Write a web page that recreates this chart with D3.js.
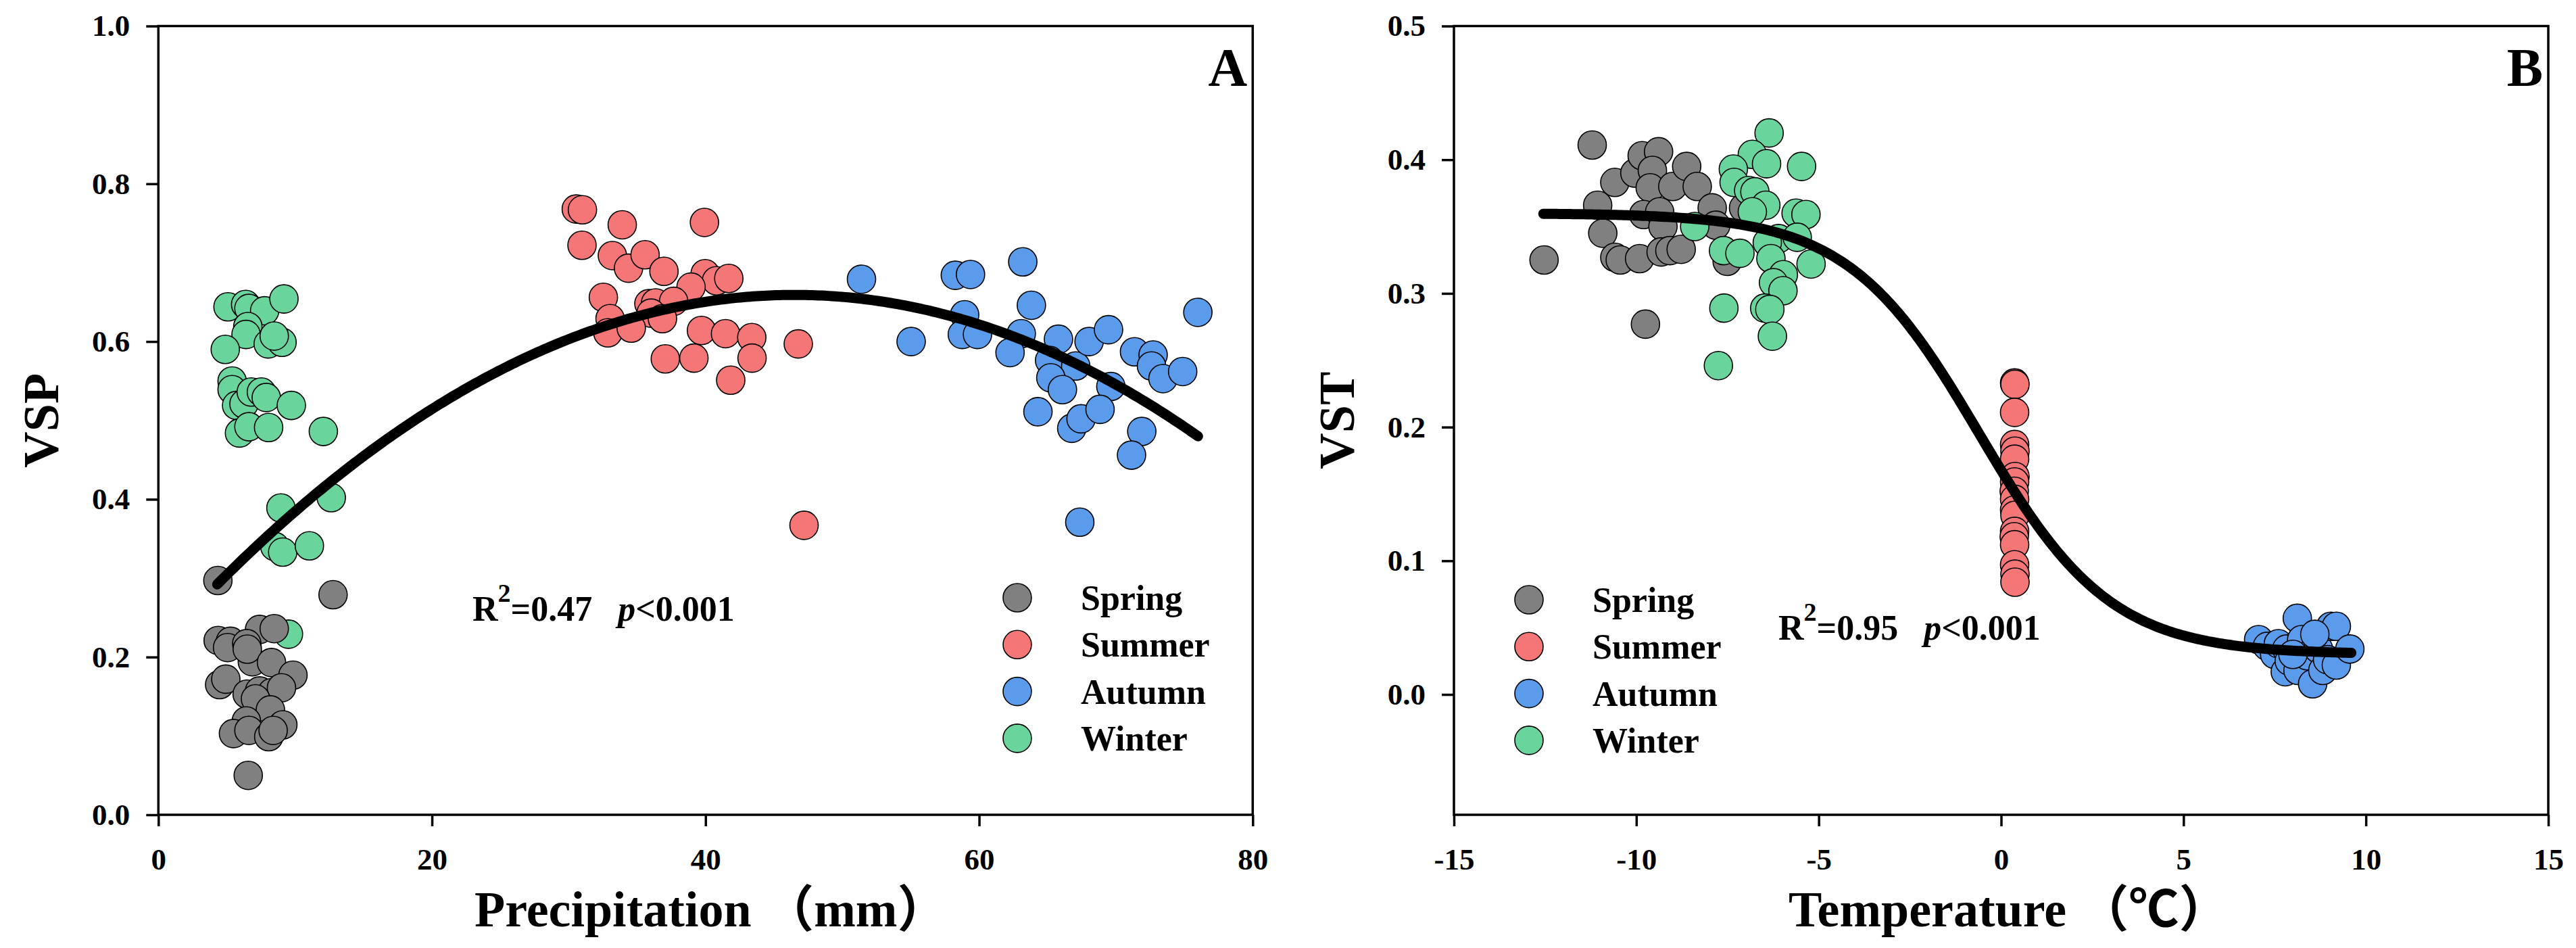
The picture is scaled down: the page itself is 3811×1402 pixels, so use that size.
<!DOCTYPE html>
<html><head><meta charset="utf-8">
<script src="https://cdn.jsdelivr.net/npm/d3@7"></script>
<style>html,body{margin:0;padding:0;background:#fff;} svg{display:block}</style>
</head><body>
<svg id="c" width="3811" height="1402"></svg>
<script>
// ---------------- DATA ----------------
const seasons = ["Spring", "Summer", "Autumn", "Winter"];
const seasonColors = ["#808080", "#F57676", "#5B9BEC", "#69D59C"];

// Panel A: Precipitation (mm) vs VSP
const springA = [[4.35,0.297],[12.77,0.279],[4.37,0.221],[5.27,0.220],[5.06,0.212],[7.40,0.235],[8.47,0.236],[6.46,0.217],[6.87,0.194],[6.5,0.21],[8.27,0.193],[9.84,0.177],[4.48,0.165],[4.93,0.172],[6.49,0.153],[7.40,0.157],[8.30,0.155],[9.0,0.161],[7.1,0.147],[8.19,0.133],[6.43,0.119],[5.49,0.103],[6.62,0.107],[8.07,0.099],[9.1,0.114],[8.39,0.107],[6.57,0.050]];
const summerA = [[30.55,0.768],[31.0,0.767],[33.91,0.748],[39.92,0.751],[30.97,0.722],[33.19,0.709],[34.37,0.693],[35.58,0.710],[36.96,0.689],[39.97,0.686],[40.8,0.677],[41.7,0.680],[38.94,0.669],[32.53,0.656],[35.86,0.648],[36.35,0.649],[37.67,0.651],[33.02,0.629],[36.02,0.636],[32.86,0.611],[34.57,0.617],[36.85,0.629],[39.7,0.614],[41.46,0.610],[43.38,0.605],[46.78,0.597],[37.06,0.578],[39.15,0.579],[43.4,0.579],[41.84,0.551],[47.2,0.367]];
const autumnA = [[51.40,0.679],[58.26,0.684],[59.37,0.685],[63.19,0.701],[63.82,0.646],[55.03,0.600],[58.94,0.634],[58.77,0.609],[59.88,0.609],[63.08,0.610],[62.26,0.586],[65.80,0.603],[65.15,0.576],[67.06,0.569],[65.24,0.554],[66.09,0.539],[68.04,0.600],[69.46,0.615],[71.36,0.587],[72.72,0.583],[72.60,0.569],[73.44,0.553],[74.88,0.562],[75.99,0.637],[69.63,0.543],[64.30,0.511],[66.77,0.490],[67.45,0.502],[68.84,0.514],[71.89,0.486],[71.14,0.456],[67.36,0.371]];
const winterA = [[5.09,0.644],[6.38,0.647],[6.62,0.642],[7.77,0.639],[9.18,0.654],[6.54,0.619],[6.41,0.609],[4.89,0.590],[8.03,0.597],[9.04,0.599],[8.47,0.607],[5.39,0.550],[5.39,0.539],[5.72,0.519],[6.26,0.521],[6.79,0.536],[7.53,0.536],[7.89,0.529],[9.72,0.519],[5.93,0.484],[6.62,0.492],[8.06,0.491],[12.06,0.486],[8.96,0.389],[12.64,0.402],[8.52,0.340],[9.09,0.333],[11.04,0.341],[9.51,0.229]];
// quadratic fit  VSP = a + b*P + c*P^2  and its x-range
const fitA = [0.2136, 0.01916, -0.000206];
const fitRangeA = [4.3, 76.0];
const xTicksA = [0, 20, 40, 60, 80];
const yTicksA = [0.0, 0.2, 0.4, 0.6, 0.8, 1.0];

// Panel B: Temperature (°C) vs VST
const springB = [[-12.53,0.325],[-11.21,0.411],[-11.06,0.366],[-10.92,0.345],[-10.59,0.383],[-10.04,0.390],[-9.84,0.403],[-9.39,0.406],[-9.56,0.392],[-9.62,0.379],[-9.00,0.380],[-8.62,0.395],[-8.33,0.380],[-7.92,0.364],[-9.80,0.359],[-9.36,0.361],[-9.27,0.350],[-7.82,0.351],[-10.59,0.327],[-10.44,0.325],[-9.91,0.326],[-9.32,0.331],[-9.08,0.332],[-8.77,0.333],[-7.51,0.324],[-9.75,0.277],[-7.06,0.364]];
const summerB = [[0.37,0.233],[0.38,0.232],[0.37,0.211],[0.37,0.187],[0.38,0.182],[0.37,0.176],[0.38,0.163],[0.37,0.159],[0.36,0.152],[0.37,0.146],[0.37,0.138],[0.38,0.134],[0.37,0.122],[0.36,0.118],[0.37,0.112],[0.37,0.097],[0.38,0.090],[0.38,0.084]];
const autumnB = [[7.06,0.041],[7.3,0.036],[7.5,0.030],[7.6,0.038],[7.79,0.017],[7.83,0.034],[7.9,0.025],[8.12,0.057],[8.14,0.018],[8.24,0.041],[8.39,0.029],[8.54,0.008],[8.70,0.034],[8.82,0.018],[8.95,0.026],[9.04,0.051],[9.19,0.051],[9.19,0.022],[9.56,0.034],[8.6,0.045],[8.0,0.030]];
const winterB = [[-6.36,0.420],[-6.82,0.404],[-6.43,0.397],[-5.47,0.395],[-7.34,0.393],[-7.32,0.383],[-6.92,0.377],[-6.75,0.376],[-6.45,0.366],[-6.82,0.361],[-5.62,0.360],[-5.35,0.359],[-8.40,0.350],[-6.10,0.341],[-5.59,0.342],[-6.41,0.338],[-7.61,0.332],[-7.16,0.330],[-6.31,0.326],[-5.21,0.322],[-5.97,0.314],[-6.24,0.308],[-5.98,0.302],[-7.60,0.289],[-6.48,0.289],[-6.34,0.288],[-6.27,0.268],[-7.75,0.246]];
// logistic fit  VST = bottom + (top-bottom)/(1+exp((T-x0)/s))
const fitB = [0.36, 0.03, -0.6, 1.8]; // top, bottom, x0, s
const fitRangeB = [-12.55, 9.6];
const xTicksB = [-15, -10, -5, 0, 5, 10, 15];
const yTicksB = [0.0, 0.1, 0.2, 0.3, 0.4, 0.5];

// ---------------- DRAW ----------------
const FONT = '"Times New Roman","Liberation Serif","Noto Sans CJK SC",serif';
const svg = d3.select('#c');
svg.append('rect').attr('width', 3811).attr('height', 1402).attr('fill', '#fff');

const TOP = 38.5, BOTTOM = 1205;

function panel(o) {
  const g = svg.append('g');
  const x = d3.scaleLinear().domain(o.xDomain).range([o.left, o.right]);
  const y = d3.scaleLinear().domain(o.yDomain).range([BOTTOM, TOP]);

  const ax = d3.axisBottom(x).tickValues(o.xTicks).tickSize(17).tickSizeOuter(0)
    .tickPadding(32).tickFormat(d => String(d));
  const ay = d3.axisLeft(y).tickValues(o.yTicks).tickSize(18).tickSizeOuter(0)
    .tickPadding(24).tickFormat(d3.format('.1f'));
  const gx = g.append('g').attr('transform', `translate(0,${BOTTOM})`).call(ax);
  const gy = g.append('g').attr('transform', `translate(${o.left},0)`).call(ay);
  [gx, gy].forEach(a => {
    a.select('.domain').remove();
    a.selectAll('line').attr('stroke', '#000').attr('stroke-width', 3.5);
    a.selectAll('text').attr('font-family', FONT).attr('font-size', 45)
      .attr('font-weight', 'bold').attr('fill', '#000');
  });

  // frame
  g.append('rect').attr('x', o.left).attr('y', TOP)
    .attr('width', o.right - o.left).attr('height', BOTTOM - TOP)
    .attr('fill', 'none').attr('stroke', '#000').attr('stroke-width', 3.5);

  // points
  o.order.forEach(i => {
    g.append('g').selectAll('circle').data(o.series[i]).join('circle')
      .attr('cx', d => x(d[0])).attr('cy', d => y(d[1])).attr('r', 21)
      .attr('fill', seasonColors[i]).attr('stroke', '#000').attr('stroke-width', 1.6);
  });

  // fitted curve
  const xs = d3.range(0, 301).map(k => o.fitRange[0] + (o.fitRange[1] - o.fitRange[0]) * k / 300);
  const line = d3.line().x(d => x(d)).y(d => y(o.fit(d)));
  g.append('path').datum(xs).attr('d', line).attr('fill', 'none')
    .attr('stroke', '#000').attr('stroke-width', 15)
    .attr('stroke-linecap', 'round').attr('stroke-linejoin', 'round');

  // legend
  const lg = g.append('g');
  seasons.forEach((s, i) => {
    const cy = o.legY + i * 69.3;
    lg.append('circle').attr('cx', o.legX).attr('cy', cy).attr('r', 21)
      .attr('fill', seasonColors[i]).attr('stroke', '#000').attr('stroke-width', 1.6);
    lg.append('text').attr('x', o.legX + 94).attr('y', cy + 18)
      .attr('font-family', FONT).attr('font-size', 52).attr('font-weight', 'bold').text(s);
  });

  // R2 text
  const t = g.append('text').attr('x', o.r2x).attr('y', o.r2y)
    .attr('font-family', FONT).attr('font-size', 52).attr('font-weight', 'bold');
  t.append('tspan').text('R');
  t.append('tspan').attr('dy', -28).attr('font-size', 38).text('2');
  t.append('tspan').attr('dy', 28).text('=' + o.r2);
  t.append('tspan').attr('dx', 38).attr('font-style', 'italic').text('p');
  t.append('tspan').text('<0.001');

  // panel letter
  g.append('text').attr('x', o.right - 8).attr('y', 127).attr('text-anchor', 'end')
    .attr('font-family', FONT).attr('font-size', 80).attr('font-weight', 'bold').text(o.letter);

  // axis titles
  g.append('text').attr('x', o.xTitleX).attr('y', 1370)
    .attr('font-family', FONT).attr('font-size', 74).attr('font-weight', 'bold').text(o.xTitle);
  g.append('text').attr('transform', `translate(${o.left - 148},${(TOP + BOTTOM) / 2}) rotate(-90)`)
    .attr('text-anchor', 'middle')
    .attr('font-family', FONT).attr('font-size', 74).attr('font-weight', 'bold').text(o.yTitle);
}

panel({
  left: 234.3, right: 1853.3, xDomain: [0, 80], yDomain: [0, 1],
  xTicks: xTicksA, yTicks: yTicksA,
  series: [springA, summerA, autumnA, winterA], order: [3, 1, 2, 0],
  fit: p => fitA[0] + fitA[1] * p + fitA[2] * p * p, fitRange: fitRangeA,
  legX: 1505, legY: 884, r2x: 699, r2y: 918, r2: '0.47', letter: 'A',
  xTitle: 'Precipitation （mm）', xTitleX: 702, yTitle: 'VSP'
});

panel({
  left: 2151, right: 3770, xDomain: [-15, 15], yDomain: [-0.09, 0.5],
  xTicks: xTicksB, yTicks: yTicksB,
  series: [springB, summerB, autumnB, winterB], order: [0, 3, 1, 2],
  fit: T => fitB[1] + (fitB[0] - fitB[1]) / (1 + Math.exp((T - fitB[2]) / fitB[3])), fitRange: fitRangeB,
  legX: 2262, legY: 887, r2x: 2631, r2y: 946, r2: '0.95', letter: 'B',
  xTitle: 'Temperature （℃）', xTitleX: 2646, yTitle: 'VST'
});
</script>
</body></html>
